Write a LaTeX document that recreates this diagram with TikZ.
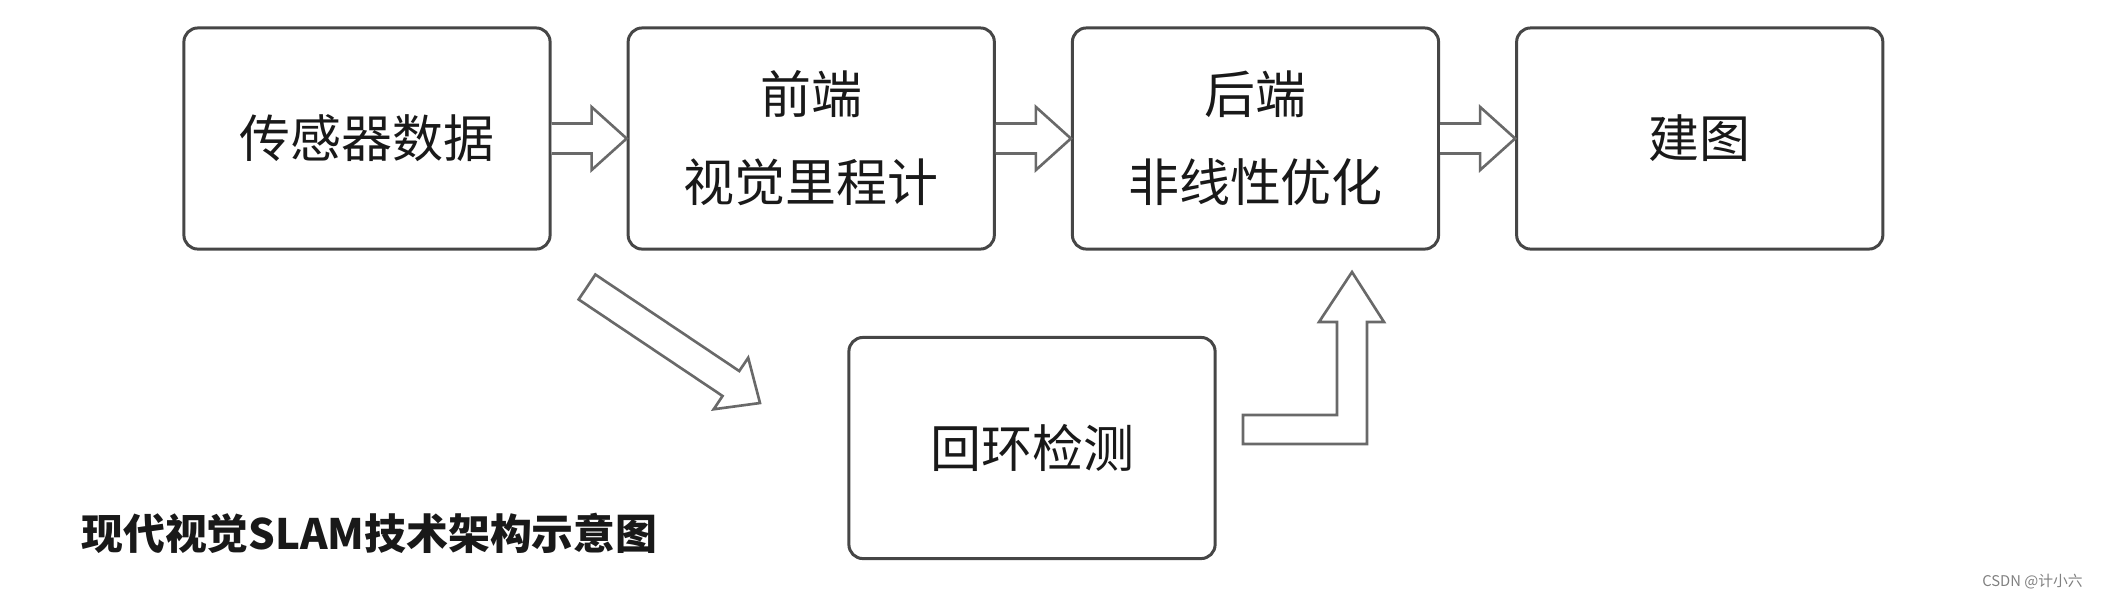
\documentclass[tikz,border=0pt]{standalone}
\usepackage{fontspec}
\newfontfamily\cjk{Noto Sans CJK SC}
\definecolor{boxline}{RGB}{70,70,70}
\definecolor{arrowline}{RGB}{105,105,105}
\definecolor{inktext}{RGB}{25,25,25}
\usetikzlibrary{positioning,calc}

\begin{document}
\begin{tikzpicture}[x=0.01cm, y=-0.01cm, node distance=0.75cm,
    stage/.style={draw=boxline, line width=0.85pt, rounded corners=1.4mm, fill=white,
      minimum width=3.66cm, minimum height=2.21cm, align=center, text=inktext,
      font=\cjk\fontsize{14.5}{25}\selectfont},
    hollow/.style={draw=arrowline, line width=0.75pt, fill=white, line join=miter}]
    \useasboundingbox (0,0) rectangle (2112,599);

    \node[stage] (sensor) at (367,138.5) {传感器数据};
    \node[stage, right=of sensor] (front) {前端\\视觉里程计};
    \node[stage, right=of front] (back) {后端\\非线性优化};
    \node[stage, right=of back] (map) {建图};
    \node[stage] (loop) at (1032,448) {回环检测};

    \node[anchor=west, text=inktext, font=\cjk\bfseries\fontsize{11.9}{14}\selectfont] (title) at (69,533) {现代视觉SLAM技术架构示意图};
    \node[anchor=east, text=black!50, font=\cjk\fontsize{4.2}{5}\selectfont] (mark) at (2095,582) {CSDN @计小六};

    % block arrows along the top row
    \foreach \a/\b in {sensor/front, front/back, back/map}
      \draw[hollow] ($(\a.east)+(0,-15)$) -- ($(\b.west)+(-35,-15)$) -- ($(\b.west)+(-35,-31.5)$)
        -- (\b.west) -- ($(\b.west)+(-35,31.5)$) -- ($(\b.west)+(-35,15)$) -- ($(\a.east)+(0,15)$);

    % to loop closure
    \coordinate (dtail) at (587,287);
    \coordinate (dtip) at (760,403);
    \coordinate (dq) at ($(dtip)!0.35cm!(dtail)$);
    \draw[hollow] ($(dtail)!0.15cm!90:(dtip)$) -- ($(dq)!0.15cm!90:(dtip)$) -- ($(dq)!0.31cm!90:(dtip)$)
      -- (dtip) -- ($(dq)!0.31cm!-90:(dtip)$) -- ($(dq)!0.15cm!-90:(dtip)$) -- ($(dtail)!0.15cm!-90:(dtip)$) -- cycle;

    % back to the back end
    \coordinate (ltail) at (1243,429.5);
    \coordinate (ltip) at (1352,272);
    \draw[hollow] ($(ltail)+(0,-14.5)$) -| ($(ltip)+(-15,50)$) -- ++(-18,0) -- (ltip) -- ++(32,50)
      -- ++(-17,0) |- ($(ltail)+(0,14.5)$) -- cycle;
\end{tikzpicture}
\end{document}
